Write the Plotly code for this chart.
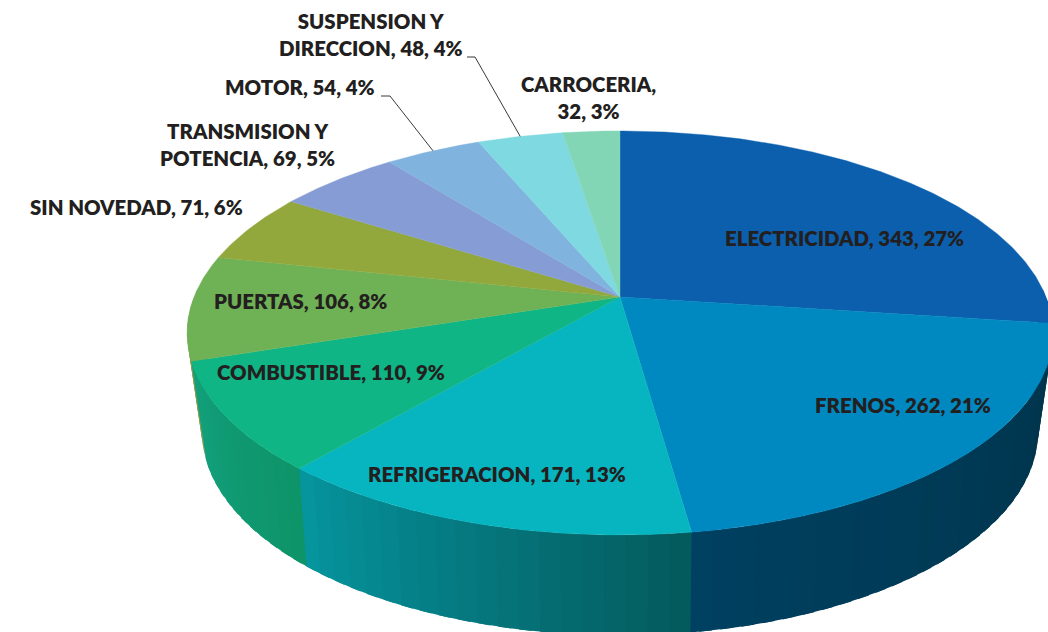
import numpy as np
import plotly.graph_objects as go

# ---- data
categories = ["ELECTRICIDAD", "FRENOS", "REFRIGERACION", "COMBUSTIBLE", "PUERTAS",
              "SIN NOVEDAD", "TRANSMISION Y POTENCIA", "MOTOR", "SUSPENSION Y DIRECCION", "CARROCERIA"]
values = [343, 262, 171, 110, 106, 71, 69, 54, 48, 32]
percents = [27, 21, 13, 9, 8, 6, 5, 4, 4, 3]

# ---- styling
top_colors = ["#0b5fad", "#0088c0", "#07b5c0", "#0fb585", "#6fb255",
              "#92a83c", "#859dd4", "#80b4de", "#7fd9e0", "#82d6b6"]
side_from = ["#00334a", "#003349", "#04595c", "#0e9468", "#8b9b50",
             "#8b9b50", "#8b9b50", "#8b9b50", "#8b9b50", "#8b9b50"]
side_to = ["#00334a", "#004060", "#06969f", "#12a07c", "#8b9b50",
           "#8b9b50", "#8b9b50", "#8b9b50", "#8b9b50", "#8b9b50"]
label_breaks = {"TRANSMISION Y POTENCIA": "TRANSMISION Y<br>POTENCIA",
                "SUSPENSION Y DIRECCION": "SUSPENSION Y<br>DIRECCION"}
label_pos = [(844, 238), (903, 405), (497, 474), (331, 372), (300, 301),
             (136, 207), (247, 144), (300, 87), (371, 34), (588, 97)]
leaders = {"MOTOR": [(381, 96), (390, 96)], "SUSPENSION Y DIRECCION": [(467, 57), (475, 57)]}
TEXT = "#231f20"
FONT = "Lato"
FSIZE = 20.4

# ---- perspective projection of the pie
CX, CY = 620.0, 297.0
A, B, K = 426.0, 195.6, 0.178            # top face
A2, B2, K2, DY = 410.0, 196.0, 0.195, 95.0  # bottom rim


def project(theta_deg, a=A, b=B, k=K, dy=0.0):
    t = np.radians(theta_deg)
    X, Y = np.sin(t), np.cos(t)
    w = 1 + k * Y
    return CX + a * X / w, CY + dy - b * Y / w


def mix(c1, c2, f):
    p = [int(c1[i:i + 2], 16) for i in (1, 3, 5)]
    q = [int(c2[i:i + 2], 16) for i in (1, 3, 5)]
    return "#%02x%02x%02x" % tuple(round(u + (v - u) * f) for u, v in zip(p, q))


edges = np.concatenate([[0], np.cumsum(values)]) / sum(values) * 360.0
fig = go.Figure()

# side wall, back to front; each strip runs under the next one so no seams show
strips = []
for i in range(len(values)):
    lo, hi = max(edges[i], 88.0), min(edges[i + 1], 272.0)
    if hi <= lo:
        continue
    n = max(1, int(np.ceil((hi - lo) / 2.5)))
    th = np.linspace(lo, hi, n + 1)
    for j in range(n):
        strips.append((th[j], th[j + 1], mix(side_from[i], side_to[i], (j + 0.5) / n)))
strips.sort(key=lambda s: -abs((s[0] + s[1]) / 2 - 180))
for t0, t1, col in strips:
    if t1 <= 180:
        t1 = t1 + 1.5
    elif t0 >= 180:
        t0 = t0 - 1.5
    tt = np.linspace(t0, t1, 5)
    xt, yt = project(tt)
    xb, yb = project(tt[::-1], A2, B2, K2, DY)
    fig.add_trace(go.Scatter(x=np.r_[xt, xb], y=np.r_[yt, yb], mode="lines", fill="toself",
                             fillcolor=col, line=dict(color=col, width=0),
                             hoverinfo="skip", showlegend=False))

# top face
for i, cat in enumerate(categories):
    tt = np.linspace(edges[i], edges[i + 1], max(6, int(edges[i + 1] - edges[i]) * 2))
    xa, ya = project(tt)
    fig.add_trace(go.Scatter(x=np.r_[CX, xa, CX], y=np.r_[CY, ya, CY], mode="lines", fill="toself",
                             fillcolor=top_colors[i], line=dict(color=top_colors[i], width=0.4),
                             name=cat, hoverinfo="name", showlegend=False))

# leader lines
for i, cat in enumerate(categories):
    if cat in leaders:
        ex, ey = project((edges[i] + edges[i + 1]) / 2)
        pts = leaders[cat] + [(ex, ey)]
        fig.add_trace(go.Scatter(x=[p[0] for p in pts], y=[p[1] for p in pts], mode="lines",
                                 line=dict(color="#222222", width=0.9),
                                 hoverinfo="skip", showlegend=False))

# labels
for i, cat in enumerate(categories):
    if cat == "CARROCERIA":
        text = f"CARROCERIA,<br>{values[i]}, {percents[i]}%"
    else:
        text = f"{label_breaks.get(cat, cat)}, {values[i]}, {percents[i]}%"
    fig.add_annotation(x=label_pos[i][0], y=label_pos[i][1], text=text, showarrow=False,
                       xanchor="center", yanchor="middle", align="center",
                       font=dict(family=FONT, size=FSIZE, color=TEXT, weight=800))

fig.update_layout(width=1048, height=632, margin=dict(l=0, r=0, t=0, b=0),
                  paper_bgcolor="white", plot_bgcolor="white", showlegend=False,
                  xaxis=dict(range=[0, 1048], visible=False, fixedrange=True),
                  yaxis=dict(range=[632, 0], visible=False, fixedrange=True))
fig.write_html("out.html", config=dict(displayModeBar=False),
               post_script="document.body.style.margin='0';document.body.style.overflow='hidden';")
